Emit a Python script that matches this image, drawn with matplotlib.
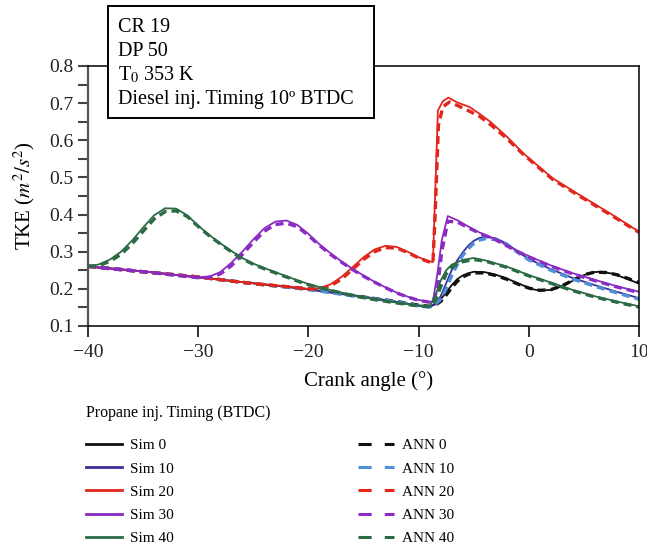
import numpy as np
import matplotlib
matplotlib.use("Agg")
import matplotlib.pyplot as plt
from matplotlib.patches import Rectangle
from matplotlib.lines import Line2D

plt.rcParams['font.family'] = ['Liberation Serif', 'DejaVu Serif']
plt.rcParams['mathtext.fontset'] = 'stix'

# crank angle / TKE
x_sim0 = [-40, -35, -30, -25, -20, -15, -12, -10, -9, -8.5, -8, -7.5, -7, -6.5, -6, -5.5, -5, -4, -3, -2, -1, 0, 0.5, 1, 2, 3, 4, 5, 5.8, 6.5, 7.6, 9, 10]
y_sim0 = [0.26, 0.247, 0.231, 0.215, 0.199, 0.179, 0.165, 0.155, 0.152, 0.158, 0.172, 0.19, 0.21, 0.226, 0.236, 0.242, 0.246, 0.245, 0.238, 0.228, 0.215, 0.203, 0.198, 0.196, 0.197, 0.207, 0.222, 0.237, 0.245, 0.246, 0.241, 0.226, 0.214]
x_ann0 = [-40, -35, -30, -25, -20, -15, -12, -10, -9, -8.5, -8, -7.5, -7, -6.5, -6, -5.5, -5, -4, -3, -2, -1, 0, 1, 2, 3, 4, 5, 6, 7, 8, 9, 10]
y_ann0 = [0.262, 0.246, 0.232, 0.214, 0.2, 0.178, 0.166, 0.156, 0.153, 0.156, 0.166, 0.183, 0.203, 0.22, 0.232, 0.239, 0.243, 0.243, 0.236, 0.226, 0.213, 0.202, 0.196, 0.198, 0.208, 0.223, 0.238, 0.245, 0.244, 0.238, 0.228, 0.217]

x_10 = [-40, -35, -30, -25, -20, -18, -16, -14, -12, -10, -9, -8.5, -8, -7.5, -7, -6.5, -6, -5.5, -5, -4.5, -4, -3, -2, -1, 0, 2, 4, 6, 8, 10]
y_sim10 = [0.26, 0.247, 0.231, 0.215, 0.199, 0.19, 0.182, 0.174, 0.165, 0.155, 0.152, 0.16, 0.18, 0.215, 0.25, 0.276, 0.298, 0.316, 0.329, 0.337, 0.34, 0.336, 0.322, 0.3, 0.28, 0.253, 0.229, 0.21, 0.192, 0.175]
y_ann10 = [0.261, 0.246, 0.232, 0.214, 0.198, 0.19, 0.181, 0.173, 0.165, 0.154, 0.151, 0.157, 0.172, 0.2, 0.235, 0.265, 0.29, 0.308, 0.322, 0.331, 0.335, 0.333, 0.32, 0.298, 0.278, 0.25, 0.226, 0.207, 0.189, 0.172]

x_sim20 = [-40, -35, -30, -25, -22, -20, -19, -18, -17, -16, -15, -14, -13, -12, -11, -10, -9, -8.7, -8.5, -8.25, -7.8, -7.3, -6.5, -5.4, -4.5, -3.5, -2, -0.5, 1, 2.2, 4.6, 7.6, 10]
y_sim20 = [0.26, 0.247, 0.231, 0.215, 0.207, 0.2, 0.202, 0.212, 0.232, 0.258, 0.285, 0.306, 0.316, 0.313, 0.3, 0.285, 0.274, 0.272, 0.45, 0.68, 0.705, 0.715, 0.702, 0.69, 0.672, 0.65, 0.61, 0.565, 0.527, 0.497, 0.453, 0.399, 0.354]
x_ann20 = [-40, -35, -30, -25, -22, -20, -19, -18, -17, -16, -15, -14, -13, -12, -11, -10, -9, -8.7, -8.5, -8.2, -7.8, -7.2, -6.5, -5.5, -4.5, -3.5, -2, -0.5, 1, 2.2, 4.6, 7.6, 10]
y_ann20 = [0.26, 0.246, 0.232, 0.214, 0.206, 0.199, 0.2, 0.208, 0.226, 0.252, 0.279, 0.3, 0.311, 0.31, 0.298, 0.283, 0.272, 0.27, 0.4, 0.64, 0.69, 0.703, 0.694, 0.68, 0.665, 0.643, 0.605, 0.562, 0.524, 0.494, 0.45, 0.396, 0.352]

x_30 = [-40, -38, -36, -34, -32, -30, -29, -28, -27, -26, -25, -24, -23, -22, -21, -20, -19, -18, -17, -16, -15, -14, -13, -12, -11, -10, -9, -8.7, -8.3, -7.9, -7.35, -6.5, -5.5, -4.5, -3, -2, -1, 0, 2, 4, 6, 8, 10]
y_sim30 = [0.26, 0.255, 0.25, 0.244, 0.237, 0.231, 0.233, 0.245, 0.27, 0.3, 0.333, 0.363, 0.381, 0.384, 0.372, 0.348, 0.32, 0.296, 0.274, 0.254, 0.236, 0.219, 0.204, 0.19, 0.179, 0.17, 0.165, 0.166, 0.24, 0.33, 0.396, 0.385, 0.368, 0.352, 0.334, 0.318, 0.302, 0.288, 0.263, 0.242, 0.224, 0.207, 0.192]
y_ann30 = [0.261, 0.254, 0.249, 0.243, 0.236, 0.23, 0.231, 0.24, 0.262, 0.292, 0.325, 0.355, 0.373, 0.377, 0.367, 0.344, 0.317, 0.293, 0.272, 0.252, 0.234, 0.218, 0.203, 0.189, 0.178, 0.169, 0.164, 0.164, 0.2, 0.3, 0.382, 0.38, 0.365, 0.35, 0.332, 0.316, 0.3, 0.286, 0.261, 0.24, 0.222, 0.205, 0.19]

x_40 = [-40, -39, -38, -37, -36, -35, -34, -33, -32, -31, -30, -29, -28, -27, -26, -25, -24, -23, -22, -21, -20, -18, -16, -14, -12, -10, -9, -8.5, -8, -7.5, -7, -6, -5, -4, -2, 0, 2, 4, 6, 8, 10]
y_sim40 = [0.26, 0.266, 0.279, 0.3, 0.33, 0.365, 0.398, 0.417, 0.416, 0.398, 0.37, 0.345, 0.323, 0.302, 0.283, 0.268, 0.256, 0.245, 0.234, 0.223, 0.213, 0.197, 0.183, 0.172, 0.163, 0.155, 0.153, 0.18, 0.222, 0.25, 0.265, 0.278, 0.283, 0.277, 0.26, 0.237, 0.217, 0.197, 0.18, 0.166, 0.153]
y_ann40 = [0.26, 0.263, 0.274, 0.293, 0.321, 0.355, 0.388, 0.408, 0.41, 0.395, 0.368, 0.343, 0.321, 0.3, 0.281, 0.266, 0.254, 0.243, 0.232, 0.221, 0.211, 0.196, 0.182, 0.171, 0.162, 0.154, 0.152, 0.168, 0.205, 0.24, 0.258, 0.273, 0.279, 0.275, 0.258, 0.235, 0.215, 0.195, 0.178, 0.164, 0.151]

timings = [0, 10, 20, 30, 40]
sim_series = [(x_sim0, y_sim0), (x_10, y_sim10), (x_sim20, y_sim20), (x_30, y_sim30), (x_40, y_sim40)]
ann_series = [(x_ann0, y_ann0), (x_10, y_ann10), (x_ann20, y_ann20), (x_30, y_ann30), (x_40, y_ann40)]
sim_colors = ['#111111', '#3b2e9a', '#e2261c', '#8a2bc2', '#2a6b45']
ann_colors = ['#111111', '#4f8fd6', '#e2261c', '#8a2bc2', '#2a6b45']

fig = plt.figure(figsize=(6.47, 5.48), dpi=100)
ax = fig.add_axes([88/647, 1-326/548, 551/647, 260/548])

sim_handles, ann_handles = [], []
for t, (xs, ys), (xa, ya), cs, ca in zip(timings, sim_series, ann_series, sim_colors, ann_colors):
	ax.plot(xs, ys, color=cs, lw=1.3)
	ax.plot(xa, ya, color=ca, lw=2.4, ls=(0, (2.4, 1.5)))
	# legend proxies (the legend uses longer dashes than the plot)
	sim_handles.append(Line2D([], [], color=cs, lw=2.0, label='Sim %d' % t))
	ann_handles.append(Line2D([], [], color=ca, lw=2.2, ls=(0, (4.3, 4.3)), label='ANN %d' % t))

ax.set_xlim(-40, 10)
ax.set_ylim(0.1, 0.8)
ax.set_xticks(np.arange(-40, 11, 10))
ax.set_yticks(np.arange(0.1, 0.81, 0.1))
ax.set_yticks(np.arange(0.15, 0.8, 0.1), minor=True)
ax.yaxis.set_major_formatter(matplotlib.ticker.FormatStrFormatter('%.1f'))
ax.tick_params(axis='both', direction='out', labelsize=14, colors='#222222')
ax.tick_params(axis='y', which='both', length=7, width=1.5, color='#444444')
ax.tick_params(axis='x', length=8, width=1.3, pad=5)
ax.spines['left'].set_color('#555555')
ax.spines['left'].set_linewidth(1.6)
for s in ['bottom', 'top', 'right']:
	ax.spines[s].set_linewidth(1.1)

ax.set_xlabel('Crank angle (°)', fontsize=15)
ax.xaxis.set_label_coords(0.51, -0.175)
ax.set_ylabel('TKE ($m^2/s^2$)', fontsize=15)
ax.yaxis.set_label_coords(-0.093, 0.5)

# info box over the top spine
box = Rectangle((108/647, 1-118/548), 266/647, 112/548, transform=fig.transFigure,
				facecolor='white', edgecolor='black', lw=1.4, zorder=5)
fig.patches.append(box)
info = ['CR 19', 'DP 50', 'T$_0$ 353 K', 'Diesel inj. Timing 10º BTDC']
for i, line in enumerate(info):
	fig.text(118/647, 1-(32+24*i)/548, line, fontsize=14.5, va='baseline', ha='left', zorder=6)

fig.text(86/647, 1-413/548, 'Propane inj. Timing (BTDC)', fontsize=11.5, va='center', ha='left')
leg = fig.legend(sim_handles + ann_handles, [h.get_label() for h in sim_handles + ann_handles],
				 loc='upper left', bbox_to_anchor=(72/647, 1-425/548), ncol=2, frameon=False,
				 fontsize=11, handlelength=2.35, handletextpad=0.52,
				 columnspacing=12.1, labelspacing=0.62)

fig.savefig('out.png', dpi=100)
